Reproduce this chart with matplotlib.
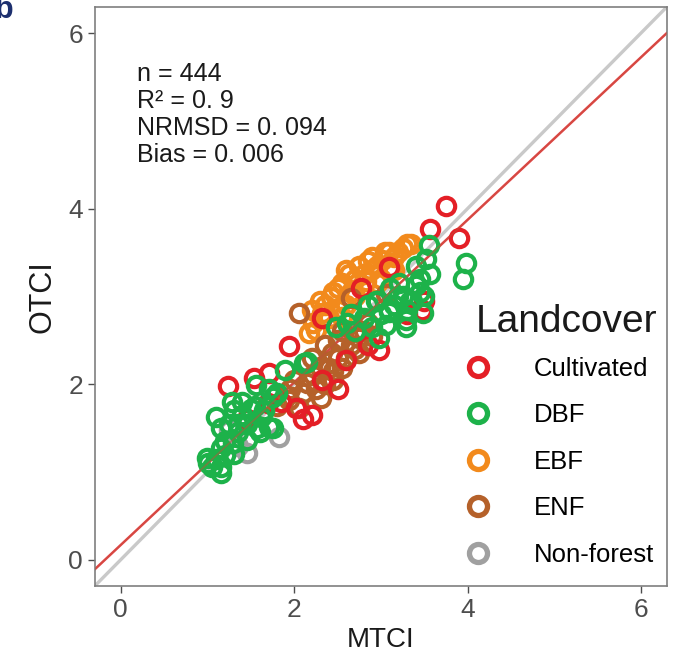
import matplotlib
matplotlib.use("Agg")
import matplotlib.pyplot as plt
from matplotlib.lines import Line2D
import numpy as np

plt.rcParams["font.family"] = ["Liberation Sans", "DejaVu Sans"]

# MTCI / OTCI pairs per land-cover class
cult_x = [1.94, 1.54, 1.71, 2.21, 2.02, 2.32, 3.09, 2.98, 2.32, 2.77, 3.57, 3.90, 3.47, 3.75, 1.24,
          2.60, 1.85, 1.70, 2.10, 2.50, 3.30, 3.50, 1.45, 2.85]
cult_y = [2.44, 2.07, 2.13, 1.65, 1.73, 2.05, 3.33, 2.39, 2.75, 3.09, 3.77, 3.67, 2.84, 4.03, 1.98,
          2.28, 1.80, 1.78, 1.60, 1.95, 2.80, 2.95, 1.60, 2.45]

dbf_x = [1.28, 1.40, 1.16, 1.46, 1.57, 0.99, 1.16, 1.20, 1.29, 1.89, 1.71, 1.71, 2.15, 1.56, 1.10,
         2.48, 2.61, 2.95, 3.09, 3.29, 3.36, 2.90, 3.06, 2.11, 3.21, 2.98, 3.55, 3.52, 3.57, 3.40,
         3.34, 3.09, 3.98, 3.95, 2.94, 3.49, 3.29, 1.05, 1.15, 1.35, 1.30, 1.50, 1.62, 1.75, 3.20,
         3.45, 1.10, 1.20, 1.25, 1.35, 1.45, 1.40, 1.55, 1.65, 1.80, 1.00, 1.15, 1.30, 1.60, 1.75,
         2.70, 2.80, 3.00, 3.15, 3.25, 3.45, 3.50, 3.30, 3.10, 2.85, 3.40, 2.65]
dbf_y = [1.80, 1.65, 1.50, 1.36, 1.50, 1.16, 0.99, 1.19, 1.33, 2.16, 1.95, 1.51, 2.25, 1.99, 1.63,
         2.65, 2.70, 2.95, 2.82, 2.65, 2.95, 2.65, 2.67, 2.24, 3.15, 2.53, 3.58, 3.43, 3.26, 3.13,
         2.95, 2.84, 3.38, 3.20, 2.95, 2.81, 2.73, 1.05, 1.27, 1.55, 1.70, 1.72, 1.62, 1.85, 3.00,
         3.05, 1.15, 1.35, 1.55, 1.45, 1.55, 1.80, 1.75, 1.70, 1.90, 1.10, 1.05, 1.20, 1.45, 1.50,
         2.60, 2.75, 2.80, 2.90, 3.00, 3.20, 3.00, 2.85, 3.10, 2.90, 3.35, 2.80]

ebf_x = [2.63, 2.43, 2.17, 3.01, 2.83, 2.55, 2.32, 3.30, 3.09, 2.89, 2.70, 2.90, 3.20, 2.50, 2.35,
         2.60, 3.00, 2.22, 2.75, 3.15, 2.25, 2.40, 2.45, 2.55, 2.65, 2.80, 2.95, 3.05, 3.15, 3.25,
         2.70, 2.85, 3.10, 2.30, 2.50, 2.60, 3.35, 2.95, 2.20]
ebf_y = [3.26, 2.99, 2.58, 3.41, 3.18, 2.76, 2.81, 3.60, 3.50, 3.30, 3.00, 3.45, 3.50, 3.10, 2.90,
         2.90, 3.20, 2.70, 3.35, 3.30, 2.62, 2.75, 3.05, 3.15, 3.05, 3.25, 3.35, 3.50, 3.45, 3.55,
         3.20, 3.40, 3.30, 2.95, 2.85, 3.30, 3.60, 3.15, 2.85]

enf_x = [1.94, 2.15, 2.06, 2.31, 2.06, 2.66, 3.06, 2.44, 2.55, 2.40, 2.75, 2.14, 2.60, 2.70, 2.35,
         1.80, 2.50, 2.22, 2.85, 2.10, 2.25, 2.30, 2.45, 2.50, 2.65, 2.75, 2.80, 2.90, 2.35, 2.20,
         1.95, 2.55, 2.45, 2.00]
enf_y = [1.82, 2.01, 1.73, 1.84, 2.81, 2.98, 3.03, 2.35, 2.18, 2.18, 2.53, 2.24, 2.30, 2.40, 2.00,
         1.75, 2.50, 2.10, 2.70, 1.90, 1.95, 2.20, 2.05, 2.30, 2.45, 2.35, 2.60, 2.55, 2.45, 2.30,
         1.95, 2.60, 2.15, 2.05]

nonf_x = [1.25, 1.83, 1.45, 1.35]
nonf_y = [1.48, 1.40, 1.22, 1.30]

classes = ["Cultivated", "DBF", "EBF", "ENF", "Non-forest"]
colors = {"Cultivated": "#e41f26", "DBF": "#1db24a", "EBF": "#f28a1c",
          "ENF": "#b5612a", "Non-forest": "#a0a0a0"}
points = {"Cultivated": (cult_x, cult_y), "DBF": (dbf_x, dbf_y), "EBF": (ebf_x, ebf_y),
          "ENF": (enf_x, enf_y), "Non-forest": (nonf_x, nonf_y)}

# regression fit shown as red line
fit_slope = 0.926
fit_icept = 0.168
stats_lines = ["n = 444", "R\u00b2 = 0. 9", "NRMSD = 0. 094", "Bias = 0. 006"]

fig = plt.figure(figsize=(6.82, 6.72), dpi=100)
ax = fig.add_axes([0.139, 0.128, 0.839, 0.862])
lo, hi = -0.3, 6.3
ax.set_xlim(lo, hi)
ax.set_ylim(lo, hi)

xs = np.array([lo, hi])
ax.plot(xs, xs, color="#c9c9c9", lw=2.4, zorder=1)
ax.plot(xs, fit_icept + fit_slope * xs, color="#e8444a", lw=1.8, zorder=1)

# draw order so green ends up on top
for name in ["EBF", "ENF", "Non-forest", "Cultivated", "DBF"]:
    x, y = points[name]
    ax.plot(x, y, "o", ms=12.5, mfc="none", mec=colors[name], mew=3.0, zorder=3)

ax.plot(xs, fit_icept + fit_slope * xs, color="#c0503a", lw=1.2, alpha=0.5, zorder=4)

for i, s in enumerate(stats_lines):
    ax.text(137, 672 - (74 + i * 27), s, transform=None, fontsize=18,
            color="#1a1a1a", va="center", ha="left")

ax.set_xticks([0, 2, 4, 6])
ax.set_yticks([0, 2, 4, 6])
ax.tick_params(colors="#4d4d4d", labelsize=19, length=5, width=1)
for sp in ax.spines.values():
    sp.set_color("#7f7f7f")
    sp.set_linewidth(1.2)

ax.set_xlabel("MTCI", fontsize=20, color="#1a1a1a", labelpad=4)
ax.set_ylabel("OTCI", fontsize=22, color="#1a1a1a", labelpad=8)

# legend: title as its own text so the gap to the first row can be set
ax.text(476, 672 - 322, "Landcover", transform=None, fontsize=28,
        color="#1a1a1a", ha="left", va="center")
handles = [Line2D([], [], ls="none", marker="o", ms=13, mfc="none",
                  mec=colors[c], mew=3.8) for c in classes]
leg = ax.legend(handles, classes, loc="upper left",
                bbox_to_anchor=(0.650, 0.396), frameon=False, fontsize=18.5,
                handlelength=0.9, handletextpad=1.7, labelspacing=0.88,
                borderpad=0, borderaxespad=0)

fig.text(-0.008, 1.008, "b", color="#1d2f6e", fontsize=22, fontweight="bold",
         ha="left", va="top")

fig.savefig("out.png", dpi=100)
